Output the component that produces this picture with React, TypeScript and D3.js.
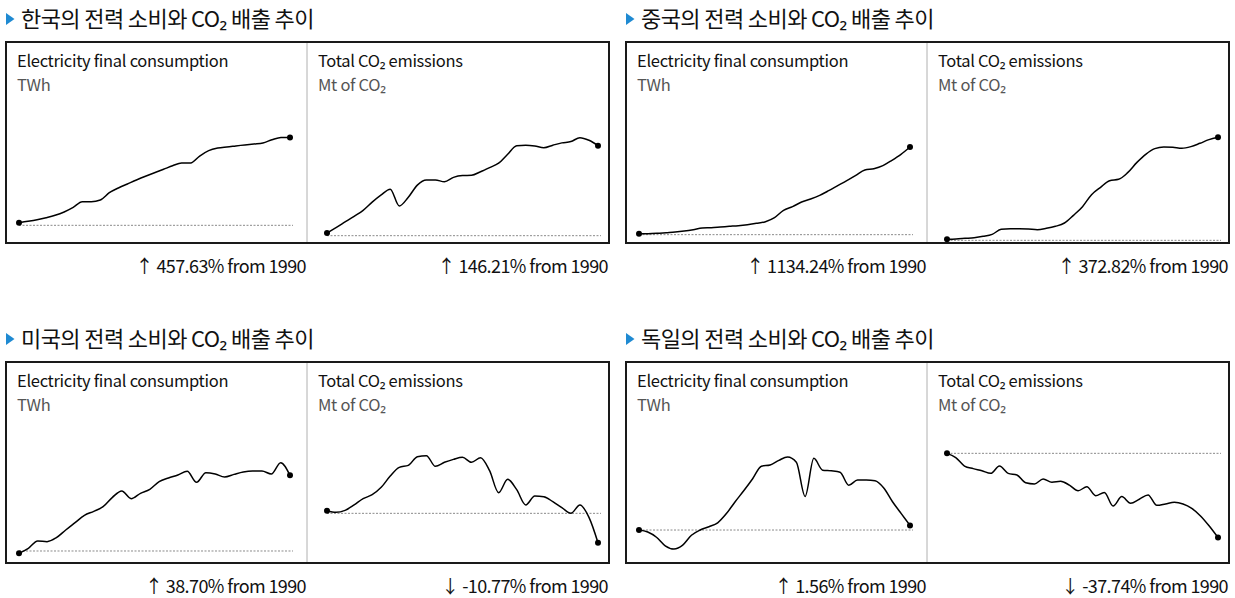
import React from 'react';
import * as d3 from 'd3';

// ---- data ----
const countries = ['한국', '중국', '미국', '독일'];

// Electricity final consumption, TWh (from 1990)
const elecKR = [94,101,109,119,131,148,171,200,200,208,245,269,289,309,328,346,363,381,395,395,430,457,470,476,481,486,491,496,512,524,524];
const elecCN = [530,530,553,600,646,715,808,923,946,992,1039,1085,1154,1247,1362,1640,2149,2403,2727,2935,3189,3513,3860,4206,4576,4946,5039,5247,5617,6033,6541];
const elecUS = [2713,2780,2879,2870,2924,3027,3126,3225,3278,3341,3467,3552,3449,3521,3575,3678,3727,3767,3817,3669,3799,3781,3741,3776,3808,3821,3821,3781,3933,3763];
const elecDE = [455,452,444,431,426,432,447,455,460,466,480,498,515,533,552,554,561,566,558,506,564,546,545,543,523,531,531,530,519,498,480,462];

// Total CO2 emissions, Mt of CO2 (from 1990)
const co2KR = [232,253,275,297,320,352,380,402,337,371,418,438,438,431,448,455,456,470,486,503,538,571,573,570,563,573,582,587,602,592,571];
const co2CN = [2100,2126,2177,2228,2330,2484,2868,2919,2919,2893,2842,2944,3098,3354,3942,4607,5529,6092,6603,6706,7218,7986,8625,9060,9188,9163,9086,9214,9470,9751,9929];
const co2US = [4800,4773,4805,4892,4994,5058,5177,5360,5500,5532,5672,5689,5516,5581,5629,5662,5581,5656,5446,5091,5306,5139,4892,5037,5026,4945,4848,4757,4892,4692,4283];
const co2DE = [950,932,896,885,876,865,896,865,858,825,820,841,827,831,815,791,808,770,784,726,766,738,755,773,729,735,742,735,716,684,641,592];

const elecSeries = [elecKR, elecCN, elecUS, elecDE];
const co2Series = [co2KR, co2CN, co2US, co2DE];

// y domains per mini chart
const elecDomains = [[6.6, 561.2], [91, 7720.8], [2623.2, 4103.9], [409.4, 576.7]];
const co2Domains = [[204.8, 632.0], [2048.6, 10491.9], [4003, 5780.1], [496.6, 964.2]];

// 1990 reference levels (dotted line)
const elecRef = [80.6, 460.6, 2744.4, 455];
const co2Ref = [221.6, 2023.2, 4757, 950];

// change from 1990, %
const elecChange = [457.63, 1134.24, 38.70, 1.56];
const co2Change = [146.21, 372.82, -10.77, -37.74];

const FONT = "'Noto Sans CJK KR', 'Noto Sans', sans-serif";

function changeLabel(v: number) {
  return `${v >= 0 ? '↑' : '↓'} ${v.toFixed(2)}% from 1990`;
}

type MiniProps = {
  values: number[];
  domain: number[];
  refValue: number;
  x0: number;
  x1: number;
  refEnd: number;
  yBottom: number;
  yTop: number;
};

function Mini({ values, domain, refValue, x0, x1, refEnd, yBottom, yTop }: MiniProps) {
  const x = d3.scaleLinear().domain([0, values.length - 1]).range([x0, x1]);
  const y = d3.scaleLinear().domain(domain).range([yBottom, yTop]);
  const line = d3
    .line<number>()
    .x((_, i) => x(i))
    .y((d) => y(d))
    .curve(d3.curveMonotoneX);
  const last = values.length - 1;
  return (
    <g>
      <line
        x1={x(0)}
        x2={refEnd}
        y1={y(refValue)}
        y2={y(refValue)}
        stroke="#8a8a8a"
        strokeWidth={1}
        strokeDasharray="2,1.5"
      />
      <path d={line(values) || ''} fill="none" stroke="#000" strokeWidth={1.5} strokeLinejoin="round" />
      <circle cx={x(0)} cy={y(values[0])} r={3} fill="#000" />
      <circle cx={x(last)} cy={y(values[last])} r={3} fill="#000" />
    </g>
  );
}

export default function App() {
  const W = 1235;
  const H = 598;
  const colX = [6, 626];
  const rowY = [42, 362];
  const boxW = 603;
  const boxH = 201;
  const half = 301;

  return (
    <svg width={W} height={H} style={{ position: 'absolute', left: 0, top: 0 }} fontFamily={FONT}>
      <rect x={0} y={0} width={W} height={H} fill="#fff" />
      {countries.map((c, k) => {
        const bx = colX[k % 2];
        const by = rowY[Math.floor(k / 2)];
        const yBottom = by + 198;
        const yTop = by + 88;
        return (
          <g key={c}>
            {/* title */}
            <path
              d={`M${bx},${by - 29} L${bx + 8.5},${by - 23} L${bx},${by - 17} Z`}
              fill="#1f8ad2"
            />
            <text x={bx + 15} y={by - 15} fontSize={22} fill="#111" letterSpacing={-0.6}>
              {`${c}의 전력 소비와 CO₂ 배출 추이`}
            </text>
            {/* box */}
            <rect x={bx} y={by} width={boxW} height={boxH} fill="#fff" stroke="#1a1a1a" strokeWidth={2} />
            <line x1={bx + half} x2={bx + half} y1={by + 1} y2={by + boxH - 1} stroke="#b0b0b0" strokeWidth={1} />
            {/* panel headers */}
            <text x={bx + 11} y={by + 25} fontSize={16.5} fill="#111" letterSpacing={-0.3}>
              Electricity final consumption
            </text>
            <text x={bx + 11} y={by + 49} fontSize={16.5} fill="#555" letterSpacing={-0.3}>
              TWh
            </text>
            <text x={bx + half + 11} y={by + 25} fontSize={16.5} fill="#111" letterSpacing={-0.3}>
              Total CO₂ emissions
            </text>
            <text x={bx + half + 11} y={by + 49} fontSize={16.5} fill="#555" letterSpacing={-0.3}>
              Mt of CO₂
            </text>
            {/* charts */}
            <Mini
              values={elecSeries[k]}
              domain={elecDomains[k]}
              refValue={elecRef[k]}
              x0={bx + 13}
              x1={bx + 284}
              refEnd={bx + 287}
              yBottom={yBottom}
              yTop={yTop}
            />
            <Mini
              values={co2Series[k]}
              domain={co2Domains[k]}
              refValue={co2Ref[k]}
              x0={bx + 321}
              x1={bx + 592}
              refEnd={bx + 595}
              yBottom={yBottom}
              yTop={yTop}
            />
            {/* change labels */}
            <text x={bx + half - 1} y={by + 231} fontSize={18} textAnchor="end" fill="#111" letterSpacing={-0.6}>
              {changeLabel(elecChange[k])}
            </text>
            <text x={bx + boxW - 1} y={by + 231} fontSize={18} textAnchor="end" fill="#111" letterSpacing={-0.6}>
              {changeLabel(co2Change[k])}
            </text>
          </g>
        );
      })}
    </svg>
  );
}
